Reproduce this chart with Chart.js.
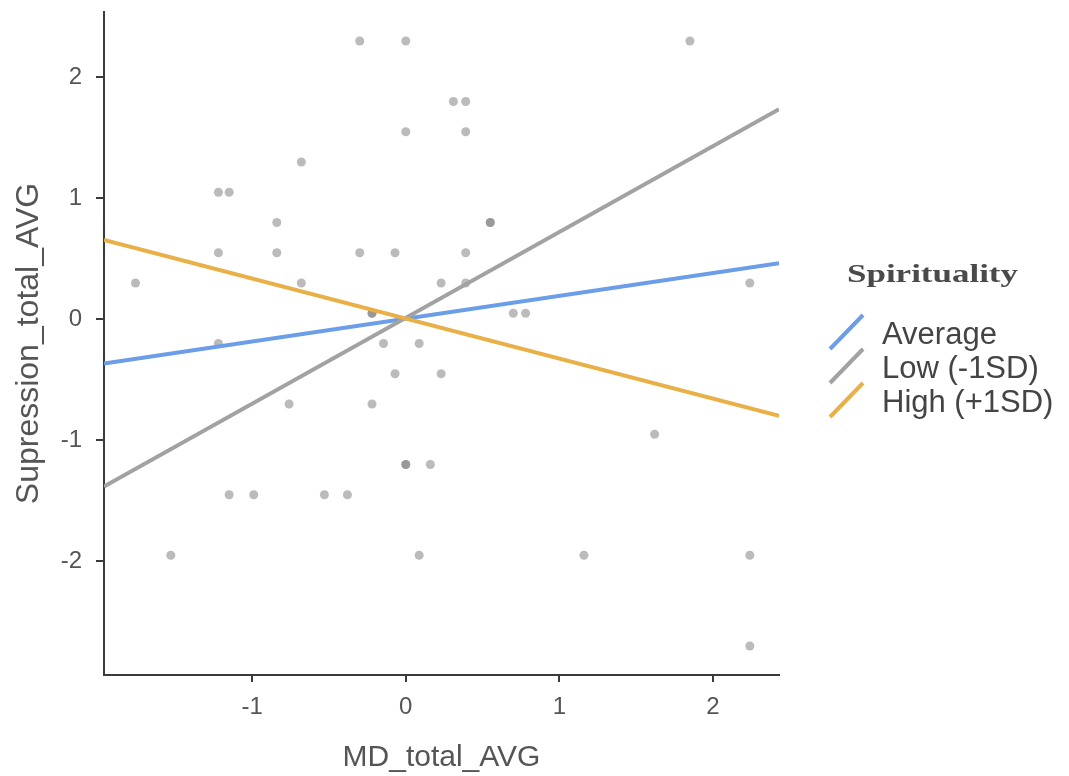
<!DOCTYPE html>
<html>
<head>
<meta charset="utf-8">
<script src="https://cdn.jsdelivr.net/npm/chart.js@4/dist/chart.umd.min.js"></script>
<style>
  html, body { margin: 0; padding: 0; background: #ffffff; }
  #wrap { width: 1069px; height: 776px; position: relative; }
</style>
</head>
<body>
<div id="wrap"><canvas id="c" width="1069" height="776"></canvas></div>
<script>
// ---- data ----
const pointX = [-0.30, 0.00, 1.85, 0.31, 0.39, 0.00, 0.39, -0.68, -1.22, -1.15,
                -0.84, 0.55, 0.55, -1.22, -0.84, -0.30, -0.07, 0.39, -1.76, -0.68,
                0.23, 0.39, 2.24, -0.22, -0.22, 0.70, 0.78, -1.22, -0.145, 0.087,
                -0.07, 0.23, -0.76, -0.22, 1.62, 0.00, 0.00, 0.16, -1.15, -0.99,
                -0.53, -0.38, -1.53, 0.087, 1.16, 2.24, 2.24];
const pointY = [2.30, 2.30, 2.30, 1.80, 1.80, 1.55, 1.55, 1.30, 1.05, 1.05,
                0.80, 0.80, 0.80, 0.55, 0.55, 0.55, 0.55, 0.55, 0.30, 0.30,
                0.30, 0.30, 0.30, 0.05, 0.05, 0.05, 0.05, -0.20, -0.20, -0.20,
                -0.45, -0.45, -0.70, -0.70, -0.95, -1.20, -1.20, -1.20, -1.45, -1.45,
                -1.45, -1.45, -1.95, -1.95, -1.95, -1.95, -2.70];

const lineX = [-1.965, 2.43];
const averageY = [-0.365, 0.463];
const lowY = [-1.383, 1.736];
const highY = [0.655, -0.797];

const seriesLabels = ['Average', 'Low (-1SD)', 'High (+1SD)'];
const legendTitle = 'Spirituality';
const xTicks = [-1, 0, 1, 2];
const yTicks = [-2, -1, 0, 1, 2];
const xTitle = 'MD_total_AVG';
const yTitle = 'Supression_total_AVG';
const xRange = [-1.965, 2.43];
const yRange = [-2.94, 2.54];

// ---- styling ----
const COLORS = { avg: '#6B9DE8', low: '#A2A2A2', high: '#E8B046' };
const AXIS = '#3a3a3a';
const TEXT = '#555555';

function pairs(xs, ys) { return xs.map((x, i) => ({ x: x, y: ys[i] })); }

const legendPlugin = {
  id: 'customLegend',
  afterDraw(chart) {
    const ctx = chart.ctx;
    ctx.save();
    ctx.fillStyle = '#4a4a4a';
    ctx.font = 'bold 26px "Liberation Serif"';
    ctx.textBaseline = 'alphabetic';
    ctx.textAlign = 'left';
    const w = ctx.measureText(legendTitle).width;
    const target = 171;
    ctx.translate(847, 282);
    ctx.scale(target / w, 1);
    ctx.fillText(legendTitle, 0, 0);
    ctx.restore();

    const lines = chart.data.datasets.filter(d => d.showLine);
    const baselines = [344, 378, 412];
    ctx.save();
    ctx.font = '31px "Liberation Sans"';
    ctx.fillStyle = '#444444';
    ctx.textAlign = 'left';
    ctx.textBaseline = 'alphabetic';
    lines.forEach((ds, i) => {
      const b = baselines[i];
      ctx.strokeStyle = ds.borderColor;
      ctx.lineWidth = 4;
      ctx.lineCap = 'butt';
      ctx.beginPath();
      ctx.moveTo(830, b + 5);
      ctx.lineTo(863, b - 29);
      ctx.stroke();
      ctx.fillText(ds.label, 882, b);
    });
    ctx.restore();
  }
};

const ctx = document.getElementById('c').getContext('2d');
new Chart(ctx, {
  type: 'scatter',
  data: {
    datasets: [
      {
        label: seriesLabels[0],
        data: pairs(lineX, averageY),
        showLine: true,
        borderColor: COLORS.avg,
        backgroundColor: COLORS.avg,
        borderWidth: 4,
        pointRadius: 0,
        order: 3
      },
      {
        label: seriesLabels[1],
        data: pairs(lineX, lowY),
        showLine: true,
        borderColor: COLORS.low,
        backgroundColor: COLORS.low,
        borderWidth: 4,
        pointRadius: 0,
        order: 2
      },
      {
        label: seriesLabels[2],
        data: pairs(lineX, highY),
        showLine: true,
        borderColor: COLORS.high,
        backgroundColor: COLORS.high,
        borderWidth: 4,
        pointRadius: 0,
        order: 1
      },
      {
        label: 'points',
        data: pairs(pointX, pointY),
        showLine: false,
        pointRadius: 4.5,
        pointBorderWidth: 0,
        backgroundColor: 'rgba(120,120,120,0.5)',
        borderColor: 'rgba(0,0,0,0)',
        order: 10
      }
    ]
  },
  options: {
    responsive: false,
    animation: false,
    layout: { padding: { left: 0, top: 12, right: 290, bottom: 0 } },
    plugins: {
      legend: { display: false },
      tooltip: { enabled: false }
    },
    scales: {
      x: {
        type: 'linear',
        min: xRange[0],
        max: xRange[1],
        afterBuildTicks: (s) => { s.ticks = xTicks.map(v => ({ value: v })); },
        afterFit: (s) => { s.height = 101; s.paddingLeft = 0; s.paddingRight = 0; },
        grid: { display: true, drawOnChartArea: false, drawTicks: true, tickLength: 7, color: AXIS, lineWidth: 2 },
        border: { display: true, color: AXIS, width: 2 },
        ticks: { color: TEXT, font: { family: '"Liberation Sans"', size: 24 }, padding: 11, maxRotation: 0 },
        title: { display: true, text: xTitle, color: TEXT, font: { family: '"Liberation Sans"', size: 30 }, padding: { top: 0, bottom: 0 } }
      },
      y: {
        type: 'linear',
        min: yRange[0],
        max: yRange[1],
        afterBuildTicks: (s) => { s.ticks = yTicks.map(v => ({ value: v })); },
        afterFit: (s) => { s.width = 104; s.paddingTop = 0; s.paddingBottom = 0; },
        grid: { display: true, drawOnChartArea: false, drawTicks: true, tickLength: 8, color: AXIS, lineWidth: 2 },
        border: { display: true, color: AXIS, width: 2 },
        ticks: { color: TEXT, font: { family: '"Liberation Sans"', size: 24 }, padding: 14 },
        title: { display: true, text: yTitle, color: TEXT, font: { family: '"Liberation Sans"', size: 32 }, padding: { top: 10, bottom: 0 } }
      }
    }
  },
  plugins: [legendPlugin]
});
</script>
</body>
</html>
